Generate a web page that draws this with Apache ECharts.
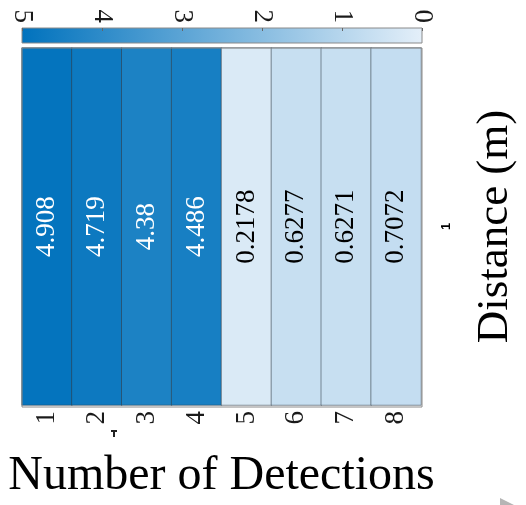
<!DOCTYPE html>
<html>
<head>
<meta charset="utf-8">
<script src="https://cdn.jsdelivr.net/npm/echarts@6/dist/echarts.min.js"></script>
<style>html,body{margin:0;padding:0;background:#fff}#c{width:526px;height:505px}</style>
</head>
<body>
<div id="c"></div>
<script>
const categories = ['1','2','3','4','5','6','7','8'];
const rows = ['1'];
const values = [4.908, 4.719, 4.38, 4.486, 0.2178, 0.6277, 0.6271, 0.7072];
const colorbarTicks = [0, 1, 2, 3, 4, 5];
const lowColor = '#e4eff9';
const highColor = '#0072bd';

const serif = '"Liberation Serif", "DejaVu Serif", serif';
const chart = echarts.init(document.getElementById('c'));
const data = values.map((v, i) => ({
  value: [i, 0, v],
  label: { color: v > 2.5 ? '#ffffff' : '#000000' }
}));

chart.setOption({
  animation: false,
  backgroundColor: '#ffffff',
  grid: [
    { left: 22, right: 104, top: 48, bottom: 98 },
    { left: 22, right: 104, top: 28, height: 15 }
  ],
  xAxis: [
    {
      gridIndex: 0, type: 'category', data: categories,
      name: 'Number of Detections', nameLocation: 'middle', nameGap: 47,
      nameTextStyle: { fontFamily: serif, fontSize: 48, color: '#000' },
      axisLine: { show: false }, axisTick: { show: false },
      axisLabel: { rotate: 90, fontFamily: serif, fontSize: 27, color: '#1a1a1a', margin: 6 },
      splitLine: { show: false }
    },
    {
      gridIndex: 1, type: 'value', min: 0, max: 5, interval: 1, inverse: true,
      position: 'top',
      axisLine: { show: false },
      axisTick: { show: true, inside: true, length: 3, lineStyle: { color: '#666' } },
      axisLabel: { rotate: 90, fontFamily: serif, fontSize: 27, color: '#1a1a1a', margin: 5,
        formatter: v => colorbarTicks.includes(v) ? String(v) : '' },
      splitLine: { show: false }
    }
  ],
  yAxis: [
    {
      gridIndex: 0, type: 'category', data: rows, position: 'right',
      name: 'Distance (m)', nameLocation: 'middle', nameGap: 52, nameRotate: 90,
      nameTextStyle: { fontFamily: serif, fontSize: 45, color: '#000' },
      axisLine: { show: false }, axisTick: { show: false },
      axisLabel: { rotate: 90, fontFamily: '"Liberation Sans", sans-serif', fontSize: 13, fontWeight: 'bold', color: '#000', margin: 19 },
      splitLine: { show: false }
    },
    {
      gridIndex: 1, type: 'category', data: [''], show: false
    }
  ],
  visualMap: {
    show: false, min: 0, max: 5, dimension: 2, seriesIndex: 0,
    inRange: { color: [lowColor, highColor] }
  },
  graphic: [
    {
      type: 'rect', z: -1,
      shape: { x: 22, y: 28, width: 400, height: 15 },
      style: {
        fill: new echarts.graphic.LinearGradient(0, 0, 1, 0, [
          { offset: 0, color: highColor }, { offset: 1, color: lowColor }
        ]),
        stroke: '#8a8a8a', lineWidth: 1
      }
    },
    {
      type: 'rect', z: 10,
      shape: { x: 22, y: 48, width: 400, height: 359 },
      style: { fill: 'none', stroke: '#8a8a8a', lineWidth: 1 }
    },
    {
      type: 'line', z: 10,
      shape: { x1: 111, y1: 431, x2: 117, y2: 431 },
      style: { stroke: '#222', lineWidth: 2 }
    },
    {
      type: 'line', z: 10,
      shape: { x1: 114, y1: 431, x2: 114, y2: 437 },
      style: { stroke: '#222', lineWidth: 2 }
    },
    {
      type: 'polygon', z: 10,
      shape: { points: [[500, 498], [500, 505], [514, 505]] },
      style: { fill: '#b5b5b5' }
    }
  ],
  series: [
    {
      type: 'heatmap', xAxisIndex: 0, yAxisIndex: 0, data: data,
      itemStyle: { borderColor: 'rgba(50,60,70,0.55)', borderWidth: 1 },
      label: {
        show: true, rotate: 90, fontFamily: serif, fontSize: 27,
        formatter: p => String(p.value[2])
      },
      emphasis: { disabled: true }
    }
  ]
});
</script>
</body>
</html>
